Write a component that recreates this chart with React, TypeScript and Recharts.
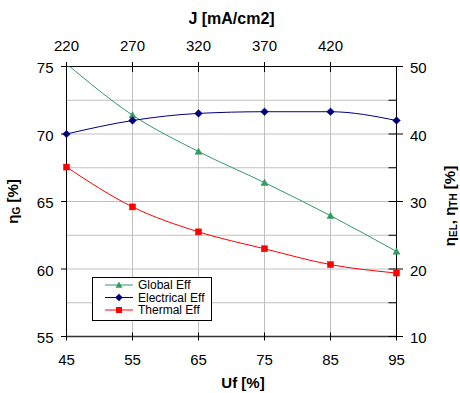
import React from 'react';
import { LineChart, Line, XAxis, YAxis, CartesianGrid, Legend, Label } from 'recharts';

// ---- data ----
const ufValues = [45, 55, 65, 75, 85, 95];
const globalEff = [75.2, 71.4, 68.7, 66.4, 63.95, 61.3];
const electricalEff = [40.0, 42.0, 43.05, 43.3, 43.3, 42.0];
const thermalEff = [35.1, 29.2, 25.5, 23.0, 20.65, 19.4];

const ufTicks = [45, 55, 65, 75, 85, 95];
const jTicks = [220, 270, 320, 370, 420];
const jTickPositions = [45, 55, 65, 75, 85];
const leftTicks = [55, 57.5, 60, 62.5, 65, 67.5, 70, 72.5, 75];
const leftLabeled = [55, 60, 65, 70, 75];
const rightTicks = [10, 15, 20, 25, 30, 35, 40, 45, 50];
const rightLabeled = [10, 20, 30, 40, 50];
const seriesNames = ['Global Eff', 'Electrical Eff', 'Thermal Eff'];

const data = ufValues.map((uf, i) => ({
  uf,
  global: globalEff[i],
  electrical: electricalEff[i],
  thermal: thermalEff[i],
}));

// ---- styles ----
const FONT = '"Liberation Sans", Arial, Helvetica, sans-serif';
const TICK_FS = 15;
const GREEN = '#339966';
const NAVY = '#000080';
const RED = '#FF0000';

const BOTTOM_M = 28.5;
const TOP_M = 16;
const LEFT_M = 13;
const RIGHT_M = 13.5;

const BottomTick = (p: any) => {
  const { x, y, payload } = p;
  const axisY = y - BOTTOM_M;
  return (
    <g>
      <line x1={x} x2={x} y1={axisY - 4} y2={axisY + 4} stroke="#000" strokeWidth={1} />
      <text x={x} y={y} textAnchor="middle" fontSize={TICK_FS} fontFamily={FONT} fill="#000">
        {payload.value}
      </text>
    </g>
  );
};

const TopTick = (p: any) => {
  const { x, y, index } = p;
  const axisY = y + TOP_M;
  return (
    <g>
      <line x1={x} x2={x} y1={axisY - 4.5} y2={axisY + 5.5} stroke="#000" strokeWidth={1} />
      <text x={x} y={y} textAnchor="middle" fontSize={TICK_FS} fontFamily={FONT} fill="#000">
        {jTicks[index]}
      </text>
    </g>
  );
};

const LeftTick = (p: any) => {
  const { x, y, payload } = p;
  if (!leftLabeled.includes(payload.value)) return <g />;
  const axisX = x + LEFT_M;
  return (
    <g>
      <line x1={axisX - 5.5} x2={axisX} y1={y} y2={y} stroke="#000" strokeWidth={1} />
      <text x={x} y={y + 6.5} textAnchor="end" fontSize={TICK_FS} fontFamily={FONT} fill="#000">
        {payload.value}
      </text>
    </g>
  );
};

const RightTick = (p: any) => {
  const { x, y, payload } = p;
  const axisX = x - RIGHT_M;
  const major = rightLabeled.includes(payload.value);
  return (
    <g>
      <line x1={axisX - 8} x2={major ? axisX + 6.5 : axisX} y1={y} y2={y} stroke="#000" strokeWidth={1} />
      {major && (
        <text x={x} y={y + 6.5} textAnchor="start" fontSize={TICK_FS} fontFamily={FONT} fill="#000">
          {payload.value}
        </text>
      )}
    </g>
  );
};

// ---- markers ----
const triPath = (cx: number, cy: number, s = 3.5) =>
  `M${cx},${cy - s} L${cx + s},${cy + s * 0.8} L${cx - s},${cy + s * 0.8} Z`;
const diaPath = (cx: number, cy: number, s = 3.8) =>
  `M${cx},${cy - s} L${cx + s},${cy} L${cx},${cy + s} L${cx - s},${cy} Z`;

const TriDot = (p: any) =>
  p.cx == null ? null : <path key={`t-${p.index}`} d={triPath(p.cx, p.cy)} fill={GREEN} stroke={GREEN} strokeWidth={0.5} />;
const DiaDot = (p: any) =>
  p.cx == null ? null : <path key={`d-${p.index}`} d={diaPath(p.cx, p.cy)} fill={NAVY} stroke={NAVY} strokeWidth={0.5} />;
const SqDot = (p: any) =>
  p.cx == null ? null : <rect key={`s-${p.index}`} x={p.cx - 3} y={p.cy - 3} width={6} height={6} fill={RED} stroke={RED} strokeWidth={0.5} />;

const markerFor = (name: string, cx: number, cy: number) => {
  if (name === 'Global Eff') return <path d={triPath(cx, cy)} fill={GREEN} />;
  if (name === 'Electrical Eff') return <path d={diaPath(cx, cy)} fill={NAVY} />;
  return <rect x={cx - 3} y={cy - 3} width={6} height={6} fill={RED} />;
};

const LegendBox = (props: any) => {
  const payload = [...(props.payload || [])]
    .filter((e: any) => seriesNames.includes(e.value))
    .sort((a: any, b: any) => seriesNames.indexOf(a.value) - seriesNames.indexOf(b.value));
  return (
    <div
      style={{
        width: 120,
        height: 44,
        border: '1px solid #000',
        background: '#fff',
        boxSizing: 'border-box',
      }}
    >
      <svg width={118} height={42} style={{ display: 'block' }}>
        {payload.map((e: any, i: number) => {
          const cy = 7 + i * 12.5;
          return (
            <g key={e.value}>
              <line x1={12} x2={40} y1={cy} y2={cy} stroke={e.color} strokeWidth={1} />
              {markerFor(e.value, 26, cy)}
              <text x={45} y={cy + 4.3} fontSize={12} fontFamily={FONT} fill="#000">
                {e.value}
              </text>
            </g>
          );
        })}
      </svg>
    </div>
  );
};

export default function App() {
  return (
    <div style={{ position: 'absolute', left: 0, top: 0, background: '#fff' }}>
      <LineChart
        width={460}
        height={393}
        data={data}
        margin={{ top: 0, right: 0, bottom: 0, left: 0 }}
        style={{ fontFamily: FONT }}
      >
        <CartesianGrid xAxisId="bottom" yAxisId="left" stroke="#c0c0c0" strokeWidth={1} />
        <XAxis
          xAxisId="bottom"
          dataKey="uf"
          type="number"
          orientation="bottom"
          domain={[45, 95]}
          ticks={ufTicks}
          interval={0}
          height={56.5}
          tickSize={0}
          tickMargin={BOTTOM_M}
          tickLine={false}
          tick={<BottomTick />}
          axisLine={{ stroke: '#333', strokeWidth: 1.5 }}
        >
          <Label
            content={(lp: any) => {
              const vb = lp.viewBox;
              return (
                <text x={vb.x + vb.width / 2 + 11.5} y={vb.y + 51.5} textAnchor="middle" fontSize={15} fontWeight="bold" fontFamily={FONT} fill="#000">
                  Uf [%]
                </text>
              );
            }}
          />
        </XAxis>
        <XAxis
          xAxisId="top"
          dataKey="uf"
          type="number"
          orientation="top"
          domain={[45, 95]}
          ticks={jTickPositions}
          interval={0}
          height={66.5}
          tickSize={0}
          tickMargin={TOP_M}
          tickLine={false}
          tick={<TopTick />}
          axisLine={{ stroke: '#000', strokeWidth: 1 }}
        >
          <Label
            content={(lp: any) => {
              const vb = lp.viewBox;
              return (
                <text x={vb.x + vb.width / 2} y={23.5} textAnchor="middle" fontSize={16} fontWeight="bold" fontFamily={FONT} fill="#000">
                  J [mA/cm2]
                </text>
              );
            }}
          />
        </XAxis>
        <YAxis
          yAxisId="left"
          orientation="left"
          type="number"
          domain={[55, 75]}
          ticks={leftTicks}
          interval={0}
          allowDataOverflow
          width={66.5}
          tickSize={0}
          tickMargin={LEFT_M}
          tickLine={false}
          tick={<LeftTick />}
          axisLine={{ stroke: '#000', strokeWidth: 1 }}
        >
          <Label
            content={(lp: any) => {
              const vb = lp.viewBox;
              const cy = vb.y + vb.height / 2;
              return (
                <text x={18} y={cy} transform={`rotate(-90 18 ${cy})`} textAnchor="middle" fontSize={15} fontWeight="bold" fontFamily={FONT} fill="#000">
                  η<tspan fontSize={10} dy={2}>G</tspan>
                  <tspan dy={-2}> [%]</tspan>
                </text>
              );
            }}
          />
        </YAxis>
        <YAxis
          yAxisId="right"
          orientation="right"
          type="number"
          domain={[10, 50]}
          ticks={rightTicks}
          interval={0}
          allowDataOverflow
          width={63.5}
          tickSize={0}
          tickMargin={RIGHT_M}
          tickLine={false}
          tick={<RightTick />}
          axisLine={{ stroke: '#000', strokeWidth: 1 }}
        >
          <Label
            content={(lp: any) => {
              const vb = lp.viewBox;
              const cy = vb.y + vb.height / 2 + 4.5;
              return (
                <text x={455} y={cy} transform={`rotate(-90 455 ${cy})`} textAnchor="middle" fontSize={15} fontWeight="bold" fontFamily={FONT} fill="#000">
                  η<tspan fontSize={10} dy={2}>EL</tspan>
                  <tspan dy={-2}>, η</tspan>
                  <tspan fontSize={10} dy={2}>TH</tspan>
                  <tspan dy={-2}> [%]</tspan>
                </text>
              );
            }}
          />
        </YAxis>
        <Line
          xAxisId="bottom"
          yAxisId="left"
          dataKey="global"
          name="Global Eff"
          type="monotone"
          stroke={GREEN}
          strokeWidth={1}
          dot={TriDot}
          activeDot={false}
          isAnimationActive={false}
        />
        <Line
          xAxisId="bottom"
          yAxisId="right"
          dataKey="electrical"
          name="Electrical Eff"
          type="monotone"
          stroke={NAVY}
          strokeWidth={1}
          dot={DiaDot}
          activeDot={false}
          isAnimationActive={false}
        />
        <Line
          xAxisId="top"
          yAxisId="right"
          dataKey="thermal"
          name="Thermal Eff"
          type="monotone"
          stroke={RED}
          strokeWidth={1}
          dot={SqDot}
          activeDot={false}
          isAnimationActive={false}
        />
        <Legend
          layout="vertical"
          align="center"
          verticalAlign="middle"
          content={<LegendBox />}
          wrapperStyle={{ left: 92, top: 277, width: 120, height: 44 }}
        />
      </LineChart>
    </div>
  );
}
